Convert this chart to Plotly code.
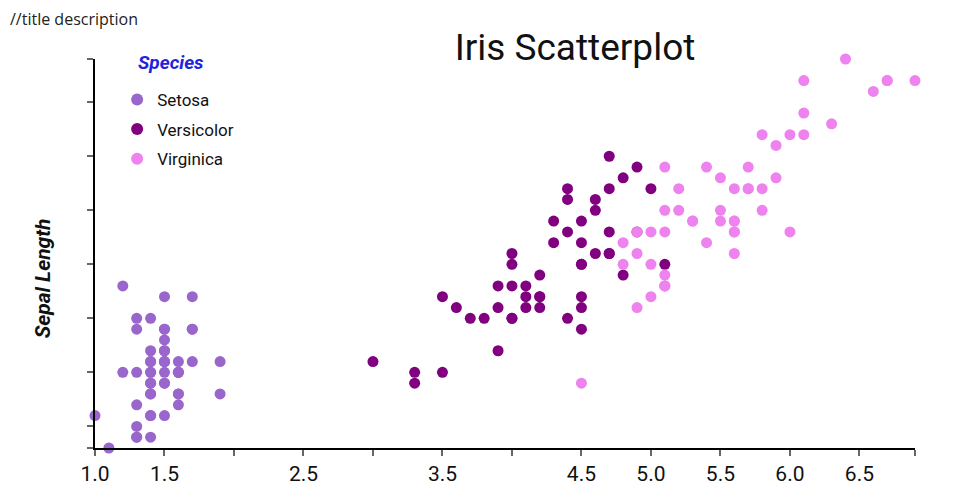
import plotly.graph_objects as go

species = ["Setosa", "Versicolor", "Virginica"]
colors = ["#9966CC", "#800080", "#EE82EE"]

setosa_petal = [1.4,1.4,1.3,1.5,1.4,1.7,1.4,1.5,1.4,1.5,1.5,1.6,1.4,1.1,1.2,1.5,1.3,1.4,1.7,1.5,
                1.7,1.5,1.0,1.7,1.9,1.6,1.6,1.5,1.4,1.6,1.6,1.5,1.5,1.4,1.5,1.2,1.3,1.4,1.3,1.5,
                1.3,1.3,1.3,1.6,1.9,1.4,1.6,1.4,1.5,1.4]
setosa_sepal = [5.1,4.9,4.7,4.6,5.0,5.4,4.6,5.0,4.4,4.9,5.4,4.8,4.8,4.3,5.8,5.7,5.4,5.1,5.7,5.1,
                5.4,5.1,4.6,5.1,4.8,5.0,5.0,5.2,5.2,4.7,4.8,5.4,5.2,5.5,4.9,5.0,5.5,4.9,4.4,5.1,
                5.0,4.5,4.4,5.0,5.1,4.8,5.1,4.6,5.3,5.0]
versicolor_petal = [4.7,4.5,4.9,4.0,4.6,4.5,4.7,3.3,4.6,3.9,3.5,4.2,4.0,4.7,3.6,4.4,4.5,4.1,4.5,3.9,
                    4.8,4.0,4.9,4.7,4.3,4.4,4.8,5.0,4.5,3.5,3.8,3.7,3.9,5.1,4.5,4.5,4.7,4.4,4.1,4.0,
                    4.4,4.6,4.0,3.3,4.2,4.2,4.2,4.3,3.0,4.1]
versicolor_sepal = [7.0,6.4,6.9,5.5,6.5,5.7,6.3,4.9,6.6,5.2,5.0,5.9,6.0,6.1,5.6,6.7,5.6,5.8,6.2,5.6,
                    5.9,6.1,6.3,6.1,6.4,6.6,6.8,6.7,6.0,5.7,5.5,5.5,5.8,6.0,5.4,6.0,6.7,6.3,5.6,5.5,
                    5.5,6.1,5.8,5.0,5.6,5.7,5.7,6.2,5.1,5.7]
virginica_petal = [6.0,5.1,5.9,5.6,5.8,6.6,4.5,6.3,5.8,6.1,5.1,5.3,5.5,5.0,5.1,5.3,5.5,6.7,6.9,5.0,
                   5.7,4.9,6.7,4.9,5.7,6.0,4.8,4.9,5.6,5.8,6.1,6.4,5.6,5.1,5.6,6.1,5.6,5.5,4.8,5.4,
                   5.6,5.1,5.1,5.9,5.7,5.2,5.0,5.2,5.4,5.1]
virginica_sepal = [6.3,5.8,7.1,6.3,6.5,7.6,4.9,7.3,6.7,7.2,6.5,6.4,6.8,5.7,5.8,6.4,6.5,7.7,7.7,6.0,
                   6.9,5.6,7.7,6.3,6.7,7.2,6.2,6.1,6.4,7.2,7.4,7.9,6.4,6.3,6.1,7.7,6.3,6.4,6.0,6.9,
                   6.7,6.9,5.8,6.8,6.7,6.7,6.3,6.5,6.2,5.9]

x_tickvals = [1.0, 1.5, 2.0, 2.5, 3.0, 3.5, 4.0, 4.5, 5.0, 5.5, 6.0, 6.5, 6.9]
x_ticktext = ["1.0", "1.5", "", "2.5", "", "3.5", "", "4.5", "5.0", "5.5", "6.0", "6.5", ""]
y_tickvals = [4.3, 4.5, 5.0, 5.5, 6.0, 6.5, 7.0, 7.5, 7.9]

xs = [setosa_petal, versicolor_petal, virginica_petal]
ys = [setosa_sepal, versicolor_sepal, virginica_sepal]

COND = "Roboto, sans-serif"

fig = go.Figure()
for name, c, x, y in zip(species, colors, xs, ys):
    fig.add_trace(go.Scatter(x=x, y=y, mode="markers", name=name, legendgroup=name,
                             marker=dict(color=c, size=11, line=dict(width=0)),
                             cliponaxis=False))

fig.update_layout(
    width=952, height=492,
    margin=dict(l=87, r=45, t=51, b=52),
    paper_bgcolor="white", plot_bgcolor="white",
    showlegend=True,
    legend=dict(x=0.027, y=0.941, xanchor="left", yanchor="top",
                font=dict(family=COND, size=17, color="#111"),
                itemsizing="constant", tracegroupgap=4.5, bgcolor="rgba(0,0,0,0)"),
    title=dict(text="Iris Scatterplot", x=0.5956, xref="container", xanchor="center",
               y=0.9207, yref="container", yanchor="middle",
               font=dict(family=COND, size=37, color="#111")),
    xaxis=dict(range=[1.0, 6.9], showgrid=False, zeroline=False,
               showline=True, linecolor="black", linewidth=1.5,
               tickmode="array", tickvals=x_tickvals, ticktext=x_ticktext,
               ticks="outside", ticklen=6, tickcolor="#666", tickwidth=1.5,
               tickfont=dict(family=COND, size=21, color="#111")),
    yaxis=dict(range=[4.3, 7.9], showgrid=False, zeroline=False,
               showline=True, linecolor="black", linewidth=1.5,
               tickmode="array", tickvals=y_tickvals, showticklabels=False,
               ticks="outside", ticklen=6, tickcolor="#666", tickwidth=1.5),
    annotations=[
        dict(text="//title description", xref="paper", yref="paper", x=-0.106, y=1.103,
             xanchor="left", yanchor="middle", showarrow=False,
             font=dict(family="Open Sans", size=16, color="#222")),
        dict(text="<b><i>Sepal Length</i></b>", xref="paper", yref="paper", x=-0.063, y=0.437,
             xanchor="center", yanchor="middle", textangle=-90, showarrow=False,
             font=dict(family=COND, size=21, color="#111")),
        dict(text="<b><i>Species</i></b>", xref="paper", yref="paper", x=0.05, y=0.992,
             xanchor="left", yanchor="middle", showarrow=False,
             font=dict(family=COND, size=19, color="#2222DD")),
    ],
)

fig.write_html("out.html")
